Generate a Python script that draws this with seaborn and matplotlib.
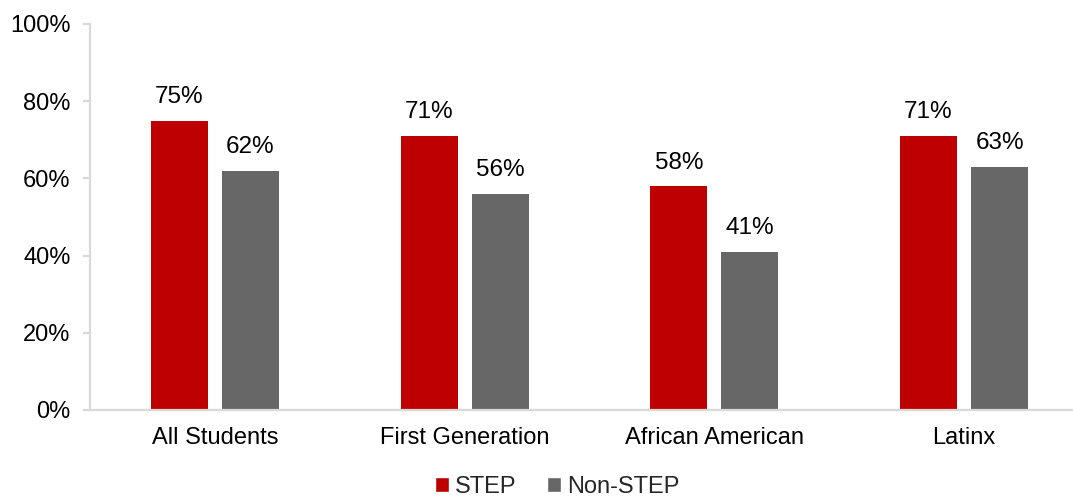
import matplotlib
matplotlib.use("Agg")
import matplotlib.pyplot as plt
import seaborn as sns
import pandas as pd
from matplotlib.ticker import PercentFormatter
from matplotlib.patches import Patch

categories = ["All Students", "First Generation", "African American", "Latinx"]
step_values = [75, 71, 58, 71]
nonstep_values = [62, 56, 41, 63]
series_names = ["STEP", "Non-STEP"]
colors = ["#BE0000", "#676767"]

df = pd.DataFrame({
    "category": categories * 2,
    "value": step_values + nonstep_values,
    "group": [series_names[0]] * 4 + [series_names[1]] * 4,
})

sns.set_theme(style="white")
plt.rcParams["font.family"] = ["Liberation Sans", "DejaVu Sans"]

fig = plt.figure(figsize=(10.73, 5.0), dpi=100)
ax = fig.add_axes([90 / 1073, 1 - 410 / 500, (1073 - 90) / 1073, (410 - 24) / 500])

sns.barplot(data=df, x="category", y="value", hue="group", order=categories,
            hue_order=series_names, palette=colors, width=0.57, gap=0.2,
            saturation=1, ax=ax, legend=False, linewidth=0)

for cont in ax.containers:
    ax.bar_label(cont, labels=[f"{v:.0f}%" for v in cont.datavalues],
                 padding=9, fontsize=17.5, color="#000000")

ax.set_ylim(0, 100)
ax.set_xlim(-0.5, 3.436)
ax.set_yticks([0, 20, 40, 60, 80, 100])
ax.yaxis.set_major_formatter(PercentFormatter(decimals=0))
ax.set_xlabel("")
ax.set_ylabel("")

for s in ["top", "right"]:
    ax.spines[s].set_visible(False)
for s in ["left", "bottom"]:
    ax.spines[s].set_color("#D9D9D9")
    ax.spines[s].set_linewidth(1.6)

ax.tick_params(axis="y", which="major", left=True, length=5, width=1.6,
               color="#D9D9D9", labelsize=17, labelcolor="#000000", pad=9)
ax.tick_params(axis="x", bottom=False, length=0, labelsize=17, labelcolor="#000000", pad=12)

handles = [Patch(facecolor=c, label=n) for c, n in zip(colors, series_names)]
fig.legend(handles=handles, loc="lower center", bbox_to_anchor=(0.519, -0.038),
           ncol=2, frameon=False, fontsize=17, handlelength=0.6, handleheight=0.6,
           handletextpad=0.25, columnspacing=1.3)

fig.savefig("out.png", dpi=100)
